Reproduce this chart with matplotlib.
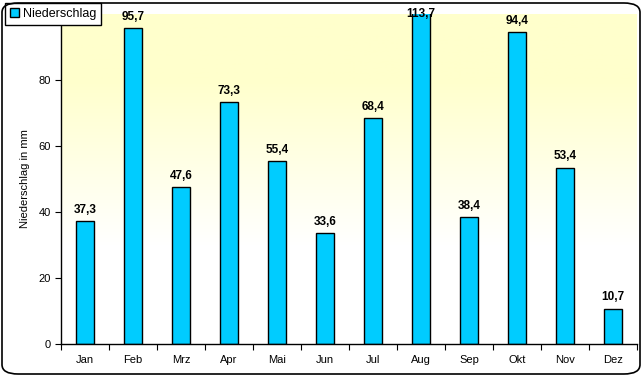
import matplotlib.pyplot as plt
import numpy as np
from matplotlib.patches import FancyBboxPatch

plt.rcParams['font.family'] = ['Liberation Sans', 'DejaVu Sans']

months = ["Jan", "Feb", "Mrz", "Apr", "Mai", "Jun", "Jul", "Aug", "Sep", "Okt", "Nov", "Dez"]
niederschlag = [37.3, 95.7, 47.6, 73.3, 55.4, 33.6, 68.4, 113.7, 38.4, 94.4, 53.4, 10.7]
y_ticks = [0, 20, 40, 60, 80]

fig = plt.figure(figsize=(6.43, 3.76), dpi=100)
ax = fig.add_axes([61 / 643, 32 / 376, 576 / 643, 330 / 376])

x = np.arange(len(months))
ax.set_xlim(-0.5, len(months) - 0.5)
ax.set_ylim(0, 100)

# yellow -> white background gradient
grad = np.linspace(0, 1, 256).reshape(-1, 1)
top = np.array([1.0, 1.0, 0.8])
bottom = np.array([1.0, 1.0, 1.0])
w = np.clip((grad - 0.3) / 0.5, 0, 1)
img = bottom * (1 - w)[..., None] + top * w[..., None]
ax.imshow(img, extent=[-0.5, len(months) - 0.5, 0, 100], origin='lower', aspect='auto', zorder=0)

bars = ax.bar(x, niederschlag, width=0.375, color='#00CCFF', edgecolor='black', linewidth=1, zorder=2,
              label='Niederschlag')

for xi, v in zip(x, niederschlag):
    label = f"{v:.1f}".replace('.', ',')
    if v > 100:
        ax.text(xi, 100, label, ha='center', va='center', fontsize=8.5, fontweight='bold',
                clip_on=False, zorder=3)
    else:
        ax.text(xi, v + 1.6, label, ha='center', va='bottom', fontsize=8.5, fontweight='bold',
                clip_on=False, zorder=3)

for s in ['top', 'right']:
    ax.spines[s].set_visible(False)
ax.spines['left'].set_linewidth(1)
ax.spines['bottom'].set_linewidth(1)

ax.set_xticks(np.arange(-0.5, len(months), 1))
ax.set_xticklabels([])
ax.set_xticks(x, minor=True)
ax.set_xticklabels(months, minor=True, fontsize=8)
ax.tick_params(axis='x', which='minor', length=0, pad=8)
ax.tick_params(axis='x', which='major', direction='out', length=4)
ax.set_yticks(y_ticks)
ax.set_yticklabels([str(t) for t in y_ticks], fontsize=8)
ax.tick_params(axis='y', direction='out', length=4)
ax.set_ylabel('Niederschlag in mm', fontsize=8, labelpad=6)

ax.legend(loc='upper left', bbox_to_anchor=(5 / 643, 1 - 3 / 376), bbox_transform=fig.transFigure,
          fontsize=9, frameon=True, fancybox=False, edgecolor='black', framealpha=1,
          handlelength=0.7, handleheight=0.7, handletextpad=0.3, borderpad=0.4, borderaxespad=0)

border = FancyBboxPatch((2 / 643, 2 / 376), 638 / 643, 371 / 376, boxstyle='round,pad=0,rounding_size=0.025',
                        transform=fig.transFigure, fill=False, edgecolor='black', linewidth=1.2)
fig.patches.append(border)

fig.savefig('out.png', dpi=100)
